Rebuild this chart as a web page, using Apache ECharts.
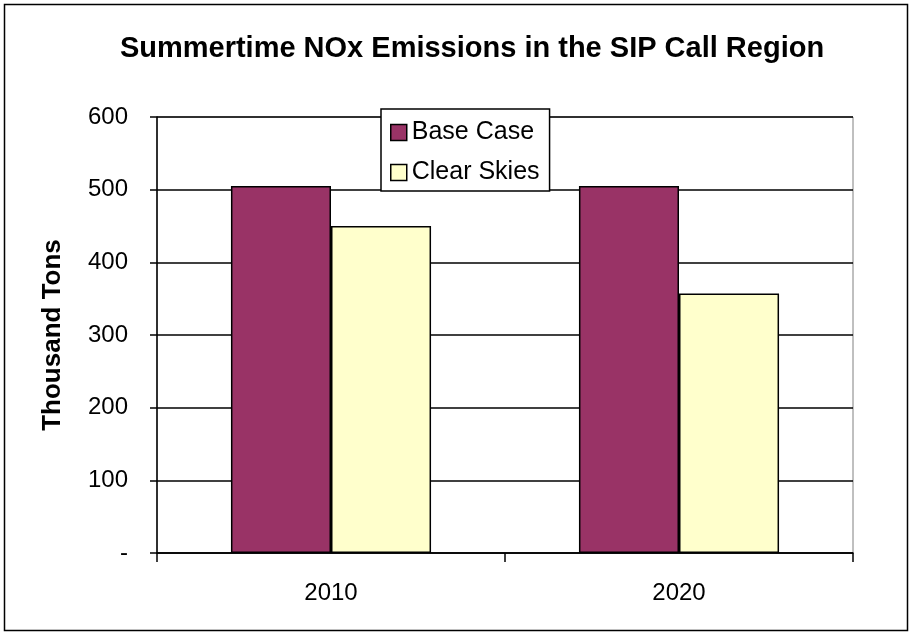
<!DOCTYPE html>
<html><head><meta charset="utf-8">
<script src="https://cdn.jsdelivr.net/npm/echarts@6/dist/echarts.min.js"></script>
<style>html,body{margin:0;padding:0;background:#fff}#c{width:913px;height:634px}</style>
</head><body><div id="c"></div>
<script>
const categories = ['2010', '2020'];
const baseCase = [505, 505];
const clearSkies = [450, 357];
const yTicks = [0, 100, 200, 300, 400, 500, 600];

const chart = echarts.init(document.getElementById('c'), null, {renderer: 'canvas'});
const F = 'Liberation Sans, Arial, sans-serif';
chart.setOption({
  animation: false,
  backgroundColor: '#fff',
  graphic: [{
    type: 'rect', shape: {x: 4.5, y: 4.5, width: 903, height: 626},
    style: {fill: 'none', stroke: '#000', lineWidth: 1.5}, z: -1
  }],
  title: {
    text: 'Summertime NOx Emissions in the SIP Call Region',
    left: 467, top: 29, textAlign: 'center',
    textStyle: {fontFamily: F, fontSize: 29, fontWeight: 'bold', color: '#000'}
  },
  legend: {
    left: 381, top: 109, orient: 'vertical',
    padding: [11, 10, 6, 9], itemGap: 15,
    backgroundColor: '#fff', borderColor: '#000', borderWidth: 1.5,
    itemWidth: 16, itemHeight: 16, icon: 'rect',
    itemStyle: {borderColor: '#000', borderWidth: 1.5},
    textStyle: {fontFamily: F, fontSize: 25, color: '#000', padding: [0, 0, 0, 0]},
    data: ['Base Case', 'Clear Skies']
  },
  grid: {left: 157, right: 60, top: 117, bottom: 81, show: true, borderColor: '#808080', borderWidth: 1},
  xAxis: {
    type: 'category', data: categories,
    axisLine: {lineStyle: {color: '#000', width: 1.5}},
    axisTick: {show: true, length: 9, lineStyle: {color: '#000', width: 1.5}},
    axisLabel: {fontFamily: F, fontSize: 24, color: '#000', margin: 28}
  },
  yAxis: {
    type: 'value', min: 0, max: 600, interval: 100,
    name: 'Thousand Tons', nameLocation: 'middle', nameGap: 91, nameRotate: 90,
    nameTextStyle: {fontFamily: F, fontSize: 26, fontWeight: 'bold', color: '#000'},
    axisLine: {show: true, lineStyle: {color: '#000', width: 1.5}},
    axisTick: {show: true, length: 7, lineStyle: {color: '#000', width: 1.5}},
    splitLine: {lineStyle: {color: '#000', width: 1.5}},
    axisLabel: {fontFamily: F, fontSize: 24, color: '#000', margin: 29,
      formatter: v => v === 0 ? '-' : String(v)}
  },
  series: [
    {name: 'Base Case', type: 'bar', data: baseCase, barGap: '0%', barCategoryGap: '42.5%',
     itemStyle: {color: '#993366', borderColor: '#000', borderWidth: 1.5}},
    {name: 'Clear Skies', type: 'bar', data: clearSkies,
     itemStyle: {color: '#FFFFCC', borderColor: '#000', borderWidth: 1.5}}
  ]
});
</script></body></html>
